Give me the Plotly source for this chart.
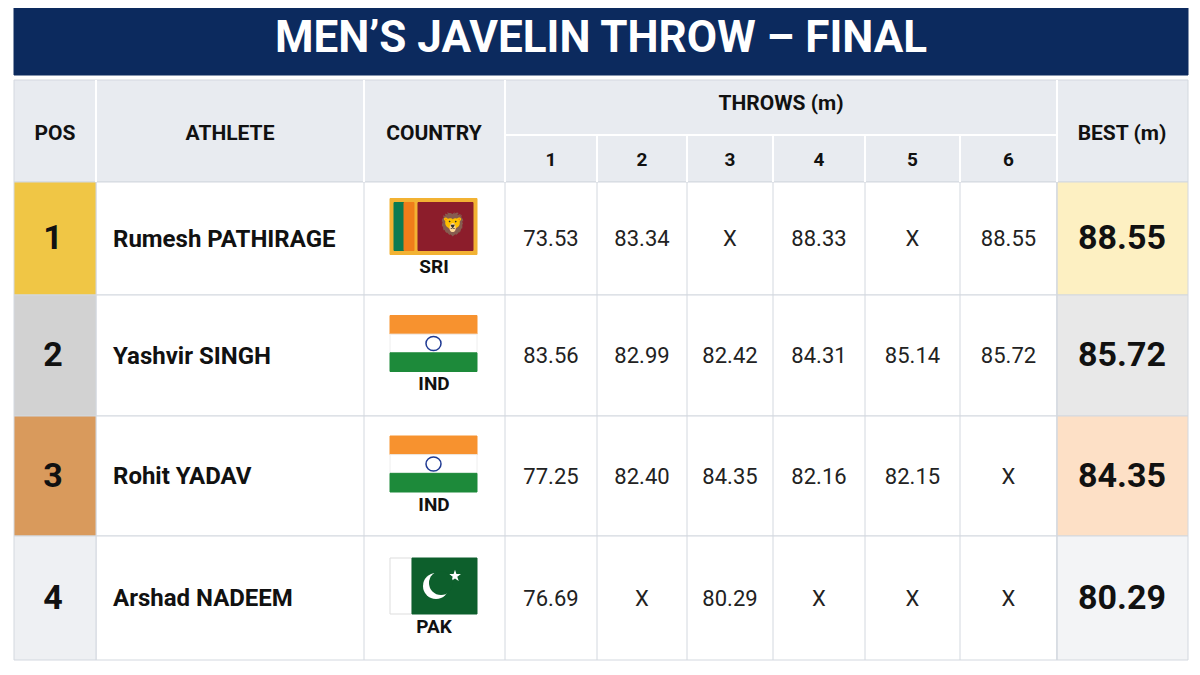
import plotly.graph_objects as go

title = "MEN’S JAVELIN THROW – FINAL"
positions = ["1", "2", "3", "4"]
athletes = ["Rumesh PATHIRAGE", "Yashvir SINGH", "Rohit YADAV", "Arshad NADEEM"]
countries = ["SRI", "IND", "IND", "PAK"]
throws = [
    ["73.53", "83.34", "X", "88.33", "X", "88.55"],
    ["83.56", "82.99", "82.42", "84.31", "85.14", "85.72"],
    ["77.25", "82.40", "84.35", "82.16", "82.15", "X"],
    ["76.69", "X", "80.29", "X", "X", "X"],
]
best = ["88.55", "85.72", "84.35", "80.29"]
throw_labels = ["1", "2", "3", "4", "5", "6"]

FONT = "Roboto, Arial"
col_edges = [14, 96, 364, 505, 597, 687, 773, 865, 960, 1057, 1188]
row_edges = [182, 295, 416, 536, 660]
pos_colors = ["#f0c645", "#d2d2d2", "#d99a5c", "#eef0f3"]
best_colors = ["#fdf0c2", "#e8e8e8", "#fde0c6", "#f3f4f6"]
border = "#d3d8df"

shapes = []
def rect(x0, y0, x1, y1, fill, line=border, w=1):
    shapes.append(dict(type="rect", xref="x", yref="y", x0=x0, x1=x1, y0=y0, y1=y1,
                       fillcolor=fill, line=dict(color=line, width=w), layer="below"))

rect(14, 0, 1188, 75, "#0c2a5e", line="#0c2a5e")
rect(14, 80, 1188, 182, "#e8ebf0")
for x in col_edges[1:4] + [col_edges[-2]]:
    shapes.append(dict(type="line", x0=x, x1=x, y0=80, y1=182, line=dict(color="#ffffff", width=2)))
shapes.append(dict(type="line", x0=505, x1=1057, y0=135, y1=135, line=dict(color="#ffffff", width=2)))
for x in col_edges[4:9]:
    shapes.append(dict(type="line", x0=x, x1=x, y0=135, y1=182, line=dict(color="#ffffff", width=2)))
for i in range(4):
    y0, y1 = row_edges[i], row_edges[i + 1]
    rect(96, y0, 1057, y1, "#ffffff")
    rect(14, y0, 96, y1, pos_colors[i])
    rect(1057, y0, 1188, y1, best_colors[i])
    for x in col_edges[2:10]:
        shapes.append(dict(type="line", x0=x, x1=x, y0=y0, y1=y1, line=dict(color=border, width=1)))

fig = go.Figure()
def flag(i, code):
    cy = (row_edges[i] + row_edges[i + 1]) / 2 - 12
    x0, x1, y0, y1 = 390, 477, cy - 28, cy + 28
    if code == "IND":
        h = (y1 - y0) / 3
        rect(x0, y0, x1, y0 + h, "#f7922f", line="#f7922f")
        rect(x0, y0 + h, x1, y0 + 2 * h, "#ffffff", line="#eeeeee")
        rect(x0, y0 + 2 * h, x1, y1, "#1d8a3a", line="#1d8a3a")
        shapes.append(dict(type="circle", x0=426, x1=441, y0=cy - 7, y1=cy + 7,
                           line=dict(color="#1f3a93", width=1.5), fillcolor="rgba(0,0,0,0)"))
    elif code == "SRI":
        rect(x0, y0, x1, y1, "#f2b233", line="#f2b233")
        rect(x0 + 4, y0 + 4, x0 + 14, y1 - 4, "#0a7b52", line="#0a7b52")
        rect(x0 + 14, y0 + 4, x0 + 24, y1 - 4, "#ef7d1a", line="#ef7d1a")
        rect(x0 + 28, y0 + 4, x1 - 4, y1 - 4, "#8c1d2b", line="#8c1d2b")
        fig.add_trace(go.Scatter(x=[452], y=[cy], mode="text", text=["🦁"], hoverinfo="skip",
                                 textfont=dict(size=22, color="#f2b233")))
    else:
        rect(x0, y0, x0 + 22, y1, "#ffffff", line="#dddddd")
        rect(x0 + 22, y0, x1, y1, "#0d5f2c", line="#0d5f2c")
        shapes.append(dict(type="circle", x0=423, x1=449, y0=cy - 13, y1=cy + 13, line=dict(width=0), fillcolor="#ffffff"))
        shapes.append(dict(type="circle", x0=429, x1=453, y0=cy - 15, y1=cy + 9, line=dict(width=0), fillcolor="#0d5f2c"))
        fig.add_trace(go.Scatter(x=[455], y=[cy - 10], mode="markers",
                                 marker=dict(symbol="star", size=9, color="#ffffff"), hoverinfo="skip"))

for i, c in enumerate(countries):
    flag(i, c)

def add_text(xs, ys, ts, size, color="#111111", bold=False):
    t = [f"<b>{s}</b>" if bold else s for s in ts]
    fig.add_trace(go.Scatter(x=xs, y=ys, text=t, mode="text", hoverinfo="skip", cliponaxis=False,
                             textfont=dict(family=FONT, size=size, color=color)))

add_text([601], [41], [title], 44, "#ffffff", True)
add_text([55, 230, 434, 1122], [135, 135, 135, 135], ["POS", "ATHLETE", "COUNTRY", "BEST (m)"], 21, bold=True)
add_text([781], [105], ["THROWS (m)"], 21, bold=True)
centers = [(col_edges[3 + k] + col_edges[4 + k]) / 2 for k in range(6)]
add_text(centers, [161] * 6, throw_labels, 19, bold=True)

for i in range(4):
    cy = (row_edges[i] + row_edges[i + 1]) / 2 + 2
    add_text([53], [cy], [positions[i]], 34, bold=True)
    fig.add_trace(go.Scatter(x=[113], y=[cy], text=[f"<b>{athletes[i]}</b>"], mode="text",
                             textposition="middle right", hoverinfo="skip",
                             textfont=dict(family=FONT, size=24, color="#111111")))
    add_text([434], [cy + 28], [countries[i]], 19, bold=True)
    add_text(centers, [cy] * 6, throws[i], 22, "#222222")
    add_text([1122], [cy], [best[i]], 34, bold=True)

fig.update_layout(
    width=1200, height=675, margin=dict(l=0, r=0, t=0, b=0),
    plot_bgcolor="#ffffff", paper_bgcolor="#ffffff", showlegend=False, shapes=shapes,
    xaxis=dict(range=[8, 1208], visible=False, fixedrange=True),
    yaxis=dict(range=[683, 8], visible=False, fixedrange=True),
)
fig.write_html("out.html")
